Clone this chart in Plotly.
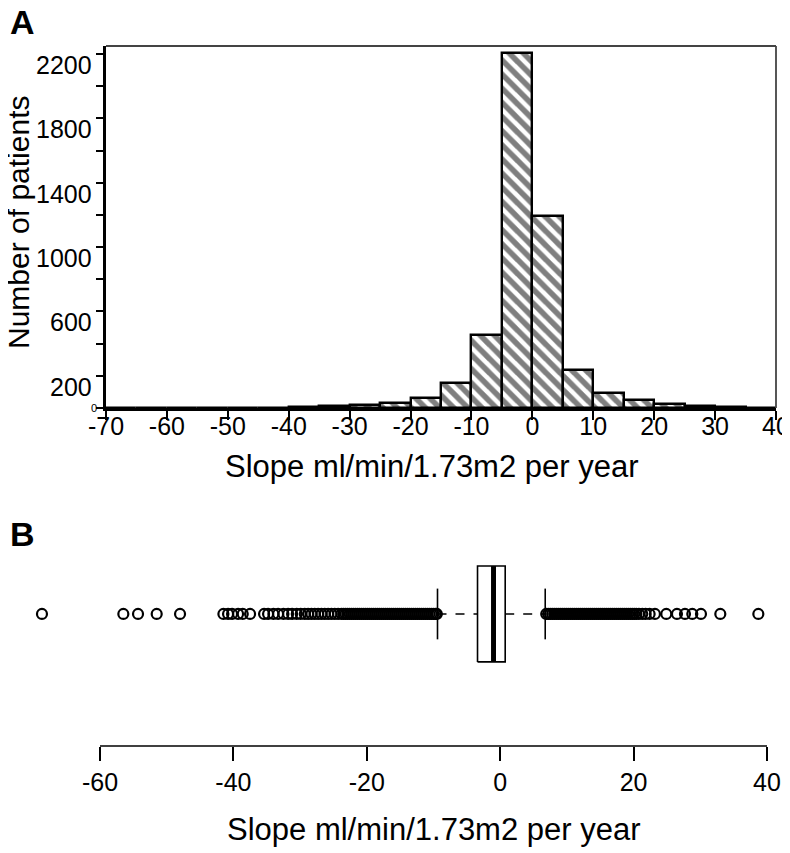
import plotly.graph_objects as go

# ---------------- data ----------------
# Panel A: histogram of slopes (bin left edges, width 5)
bin_left = [-70, -65, -60, -55, -50, -45, -40, -35, -30, -25, -20, -15, -10, -5,
            0, 5, 10, 15, 20, 25, 30, 35]
bin_counts = [1, 0, 1, 2, 1, 2, 6, 10, 20, 30, 65, 155, 453, 2205,
              1192, 236, 95, 50, 28, 14, 4, 1]
x_ticks_a = [-70, -60, -50, -40, -30, -20, -10, 0, 10, 20, 30, 40]
y_ticks_a = [0, 200, 400, 600, 800, 1000, 1200, 1400, 1600, 1800, 2000, 2200]
y_labels_a = [200, 600, 1000, 1400, 1800, 2200]

# Panel B: boxplot summary
q1 = -3.4
median = -1.0
q3 = 0.75
whisker_lo = -9.4
whisker_hi = 6.75
outliers_low = [-68.7, -56.5, -54.3, -51.5, -48.0,
                -41.5, -40.8, -40.2, -39.3, -38.6, -37.5,
                -35.4, -34.8, -34.0, -33.3, -32.5, -31.8, -31.2, -30.5, -29.9,
                -29.3, -28.8, -28.3, -27.8, -27.3, -26.8, -26.3, -25.8, -25.3,
                -24.8, -24.3, -23.8,
                -23.5, -23.2, -22.9, -22.6, -22.3, -22.0, -21.7, -21.4, -21.1,
                -20.8, -20.5, -20.2, -19.9, -19.6, -19.3, -19.0, -18.7, -18.4,
                -18.1, -17.8, -17.5, -17.2, -16.9, -16.6, -16.3, -16.0, -15.7,
                -15.4, -15.1, -14.8, -14.5, -14.2, -13.9, -13.6, -13.3, -13.0,
                -12.7, -12.4, -12.1, -11.8, -11.5, -11.2, -10.9, -10.6, -10.3,
                -10.0, -9.7, -9.5]
outliers_high = [6.9, 7.2, 7.5, 7.8, 8.1, 8.4, 8.7, 9.0, 9.3, 9.6, 9.9, 10.2,
                 10.5, 10.8, 11.1, 11.4, 11.7, 12.0, 12.3, 12.6, 12.9, 13.2,
                 13.5, 13.8, 14.1, 14.4, 14.7, 15.0, 15.3, 15.6, 15.9, 16.2,
                 16.5, 16.8, 17.1, 17.4, 17.7, 18.0, 18.3, 18.6, 18.9, 19.2,
                 19.5, 19.8, 20.1, 20.4,
                 20.8, 21.3, 21.8, 22.4, 23.2, 24.9, 26.5, 27.7, 28.8, 30.1,
                 33.0, 38.7]
x_ticks_b = [-60, -40, -20, 0, 20, 40]

xtitle = "Slope ml/min/1.73m2 per year"
ytitle = "Number of patients"

# ---------------- layout helpers ----------------
# the page body has an 8px margin, so the figure starts at (8, 8)
OFF = 8
PW, PH = 790, 853
W, H = PW - OFF, PH - OFF
FONT = "Liberation Sans, Arial, Helvetica, sans-serif"


def px_x(p):
    return (p - OFF) / W


def px_y(p):
    return (PH - p) / H


fig = go.Figure()

# Panel A histogram
fig.add_trace(go.Bar(
    x=bin_left, y=bin_counts, width=5, offset=0,
    marker=dict(color="white",
                line=dict(color="black", width=2.4),
                pattern=dict(shape="\\", fgcolor="black", bgcolor="white",
                             size=10, solidity=0.55)),
    xaxis="x", yaxis="y", showlegend=False, hoverinfo="x+y"))

# Panel B boxplot built from summary stats
bh = 0.51   # half box height (y units)
ch = 0.27   # half cap height
box_x = [q1, q3, q3, q1, q1]
box_y = [-bh, -bh, bh, bh, -bh]
fig.add_trace(go.Scatter(x=box_x, y=box_y, mode="lines",
                         line=dict(color="black", width=1.6),
                         xaxis="x2", yaxis="y2", showlegend=False))
fig.add_trace(go.Scatter(x=[median, median], y=[-bh, bh], mode="lines",
                         line=dict(color="black", width=5),
                         xaxis="x2", yaxis="y2", showlegend=False))
fig.add_trace(go.Scatter(x=[whisker_lo, q1, None, q3, whisker_hi],
                         y=[0, 0, None, 0, 0], mode="lines",
                         line=dict(color="black", width=1.6, dash="dash"),
                         xaxis="x2", yaxis="y2", showlegend=False))
fig.add_trace(go.Scatter(x=[whisker_lo, whisker_lo, None, whisker_hi, whisker_hi],
                         y=[-ch, ch, None, -ch, ch], mode="lines",
                         line=dict(color="black", width=1.6),
                         xaxis="x2", yaxis="y2", showlegend=False))
fig.add_trace(go.Scatter(x=outliers_low + outliers_high,
                         y=[0] * (len(outliers_low) + len(outliers_high)),
                         mode="markers",
                         marker=dict(symbol="circle-open", size=10, color="black",
                                     line=dict(width=2.2, color="black")),
                         xaxis="x2", yaxis="y2", showlegend=False))

# axis geometry (page pixels)
a_left, a_right, a_top, a_bottom = 106, 776, 46, 408
b_bottom, b_top = 746, 520
b_xmin = -60 - (100 - OFF) / 6.67
b_xmax = 40 + (PW - 767) / 6.67

fig.update_layout(
    width=W, height=H,
    margin=dict(l=0, r=0, t=0, b=0, autoexpand=False),
    paper_bgcolor="white", plot_bgcolor="white",
    font=dict(family=FONT, color="black", size=25),
    bargap=0,
    xaxis=dict(domain=[px_x(a_left), px_x(a_right)], range=[-70, 40],
               tickvals=x_ticks_a, ticktext=[str(v) for v in x_ticks_a],
               ticks="outside", ticklen=9, tickwidth=2, ticklabelstandoff=-15,
               tickcolor="black", showline=True, linecolor="black", linewidth=3,
               showgrid=False, zeroline=False, anchor="y", automargin=False,
               tickfont=dict(size=25)),
    yaxis=dict(domain=[px_y(a_bottom), px_y(a_top)], range=[0, 2250],
               tickvals=y_ticks_a, ticktext=[""] * len(y_ticks_a),
               ticks="outside", ticklen=7, tickwidth=2, tickcolor="black",
               showline=True, linecolor="black", linewidth=3, automargin=False,
               showgrid=False, zeroline=False, anchor="x"),
    xaxis2=dict(domain=[0, 1], range=[b_xmin, b_xmax],
                tickvals=x_ticks_b, ticktext=[str(v) for v in x_ticks_b],
                ticks="outside", ticklen=14, tickwidth=1.6, ticklabelstandoff=0,
                tickcolor="black", showline=False, showgrid=False, automargin=False,
                zeroline=False, anchor="y2", tickfont=dict(size=25)),
    yaxis2=dict(domain=[px_y(b_bottom), px_y(b_top)], range=[-1.405, 1],
                visible=False, showgrid=False, zeroline=False, anchor="x2"),
)

# frame of panel A (thin top/right)
fig.add_shape(type="line", xref="x domain", yref="y domain", x0=0, x1=1, y0=1, y1=1,
              line=dict(color="#444", width=1.8))
fig.add_shape(type="line", xref="x domain", yref="y domain", x0=1, x1=1, y0=0, y1=1,
              line=dict(color="#444", width=1.8))
# axis line of panel B spanning the tick range
fig.add_shape(type="line", xref="x2", yref="y2 domain", x0=x_ticks_b[0], x1=x_ticks_b[-1],
              y0=0, y1=0, line=dict(color="black", width=1.6))

# y tick labels of panel A
for v in y_labels_a:
    fig.add_annotation(x=px_x(94), xref="paper", y=v, yref="y", text=str(v),
                       showarrow=False, xanchor="right", yanchor="middle",
                       yshift=-11, font=dict(size=25))
fig.add_annotation(x=px_x(99), xref="paper", y=0, yref="y", text="0",
                   showarrow=False, xanchor="right", yanchor="middle",
                   font=dict(size=11))

# axis titles
fig.add_annotation(x=px_x(19), xref="paper", y=px_y(223), yref="paper", text=ytitle,
                   textangle=-90, showarrow=False, xanchor="center", yanchor="middle",
                   font=dict(size=30))
fig.add_annotation(x=px_x(432), xref="paper", y=px_y(467), yref="paper", text=xtitle,
                   showarrow=False, xanchor="center", yanchor="middle",
                   font=dict(size=31))
fig.add_annotation(x=px_x(434), xref="paper", y=px_y(829), yref="paper", text=xtitle,
                   showarrow=False, xanchor="center", yanchor="middle",
                   font=dict(size=31))

# panel letters
fig.add_annotation(x=0, xref="paper", y=px_y(22), yref="paper", text="<b>A</b>",
                   showarrow=False, xanchor="left", yanchor="middle",
                   font=dict(size=34))
fig.add_annotation(x=0, xref="paper", y=px_y(534), yref="paper", text="<b>B</b>",
                   showarrow=False, xanchor="left", yanchor="middle",
                   font=dict(size=34))

fig.write_html("out.html")
